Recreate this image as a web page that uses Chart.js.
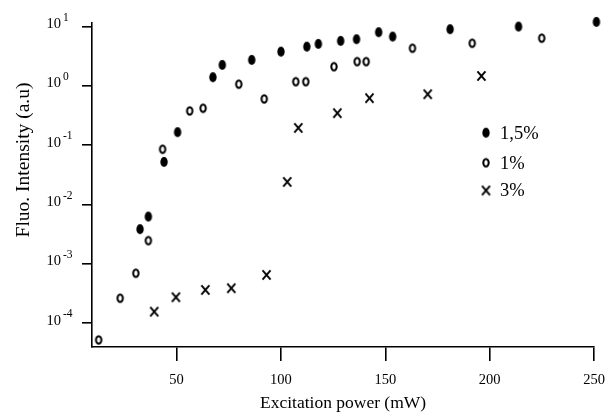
<!DOCTYPE html>
<html><head><meta charset="utf-8">
<script src="https://cdn.jsdelivr.net/npm/chart.js@4/dist/chart.umd.min.js"></script>
<style>html,body{margin:0;padding:0;background:#fff;}canvas{display:block;}</style>
</head><body>
<canvas id="c" width="615" height="414"></canvas>
<script>
// ---- data ----
const seriesLabels = ['1,5%', '1%', '3%'];
const x15 = [32.5, 36.5, 44.0, 50.5, 67.4, 71.9, 86.0, 100.0, 112.4, 117.9, 128.6, 136.2, 146.8, 153.5, 181.0, 213.8, 251.1];
const y15 = [0.00385, 0.00627, 0.0524, 0.166, 1.40, 2.26, 2.74, 3.78, 4.59, 5.10, 5.73, 6.12, 8.03, 6.78, 9.02, 9.98, 11.97];
const x1 = [12.7, 23.0, 30.5, 36.5, 43.3, 56.3, 62.7, 79.8, 92.0, 107.1, 111.9, 125.4, 136.5, 140.8, 163.0, 191.6, 224.9];
const y1 = [5.24e-5, 2.64e-4, 6.97e-4, 2.47e-3, 0.0858, 0.379, 0.421, 1.07, 0.604, 1.18, 1.18, 2.11, 2.57, 2.57, 4.32, 5.24, 6.37];
const x3 = [39.3, 49.7, 63.8, 76.2, 93.1, 103.0, 108.3, 127.0, 142.4, 170.3, 196.0];
const y3 = [1.57e-4, 2.75e-4, 3.65e-4, 3.90e-4, 6.53e-4, 0.0241, 0.196, 0.347, 0.621, 0.724, 1.47];
const xTicks = [50, 100, 150, 200, 250];
const yExponents = [-4, -3, -2, -1, 0, 1];
const xTitle = 'Excitation power (mW)';
const yTitle = 'Fluo. Intensity (a.u)';
const xMin = 9.5, xMax = 250;
const yMin = Math.pow(10, -4.4), yMax = Math.pow(10, 1.06);

// ---- marker glyphs ----
function glyph(w, h, draw) {
  const c = document.createElement('canvas'); c.width = w; c.height = h;
  const g = c.getContext('2d'); g.fillStyle = '#000'; g.strokeStyle = '#000'; draw(g); return c;
}
const filledDot = glyph(10, 12, g => { g.beginPath(); g.ellipse(5, 6, 3.7, 5.1, 0, 0, Math.PI * 2); g.fill(); });
const openDot = glyph(10, 12, g => { g.lineWidth = 2; g.beginPath(); g.ellipse(5, 6, 2.7, 3.8, 0, 0, Math.PI * 2); g.stroke(); });
const crossMark = glyph(11, 12, g => { g.lineWidth = 1.9; g.beginPath(); g.moveTo(1.5, 1.3); g.lineTo(9.5, 10.7); g.moveTo(9.5, 1.3); g.lineTo(1.5, 10.7); g.stroke(); });

const zip = (xs, ys) => xs.map((x, i) => ({ x: x, y: ys[i] }));
const FONT = '"Liberation Serif", "Times New Roman", serif';

const decor = {
  id: 'decor',
  afterDraw(chart) {
    const ctx = chart.ctx, ys = chart.scales.y;
    ctx.save();
    ctx.fillStyle = '#000';
    // y tick labels 10^n
    yExponents.forEach(e => {
      const py = ys.getPixelForValue(Math.pow(10, e));
      ctx.font = '14.5px ' + FONT; ctx.textAlign = 'right'; ctx.textBaseline = 'alphabetic';
      ctx.fillText('10', 61, py + 1.5);
      ctx.font = '11.5px ' + FONT; ctx.textAlign = 'left';
      ctx.fillText(String(e), 63, py - 6);
    });
    // y title
    ctx.save();
    ctx.translate(24, 160); ctx.rotate(-Math.PI / 2);
    ctx.font = '19.5px ' + FONT; ctx.textAlign = 'center'; ctx.textBaseline = 'middle';
    ctx.fillText(yTitle, 0, 0);
    ctx.restore();
    // legend
    const rows = [132.7, 162.7, 190.5];
    chart.data.datasets.forEach((ds, i) => {
      const img = ds.pointStyle;
      ctx.drawImage(img, 486 - img.width / 2, rows[i] - img.height / 2);
      ctx.font = '18.5px ' + FONT; ctx.textAlign = 'left'; ctx.textBaseline = 'middle';
      ctx.fillText(ds.label, 500, rows[i] + 1);
    });
    ctx.restore();
  }
};

new Chart(document.getElementById('c'), {
  type: 'scatter',
  data: {
    datasets: [
      { label: seriesLabels[0], data: zip(x15, y15), pointStyle: filledDot, clip: false },
      { label: seriesLabels[1], data: zip(x1, y1), pointStyle: openDot, clip: false },
      { label: seriesLabels[2], data: zip(x3, y3), pointStyle: crossMark, clip: false }
    ]
  },
  options: {
    responsive: false, animation: false, devicePixelRatio: 1, events: [],
    layout: { padding: { top: 23, right: 18, left: 0, bottom: 0 } },
    plugins: { legend: { display: false }, tooltip: { enabled: false } },
    scales: {
      x: {
        type: 'linear', min: xMin, max: xMax,
        afterBuildTicks: s => { s.ticks = xTicks.map(v => ({ value: v })); },
        afterFit: s => { s.height = 67; },
        grid: { drawOnChartArea: false, drawTicks: true, tickLength: 14, color: '#000', lineWidth: 1.6 },
        border: { display: true, color: '#000', width: 1.6 },
        ticks: { color: '#000', font: { family: FONT, size: 14.5 }, padding: 10, maxRotation: 0 },
        title: { display: true, text: xTitle, color: '#000', font: { family: FONT, size: 17.5 }, padding: 0 }
      },
      y: {
        type: 'logarithmic', min: yMin, max: yMax,
        afterBuildTicks: s => { s.ticks = yExponents.map(e => ({ value: Math.pow(10, e) })); },
        afterFit: s => { s.width = 92; },
        grid: { drawOnChartArea: false, drawTicks: true, tickLength: 10, color: '#000', lineWidth: 1.6 },
        border: { display: true, color: '#000', width: 1.6 },
        ticks: { display: false }
      }
    }
  },
  plugins: [decor]
});
</script>
</body></html>
